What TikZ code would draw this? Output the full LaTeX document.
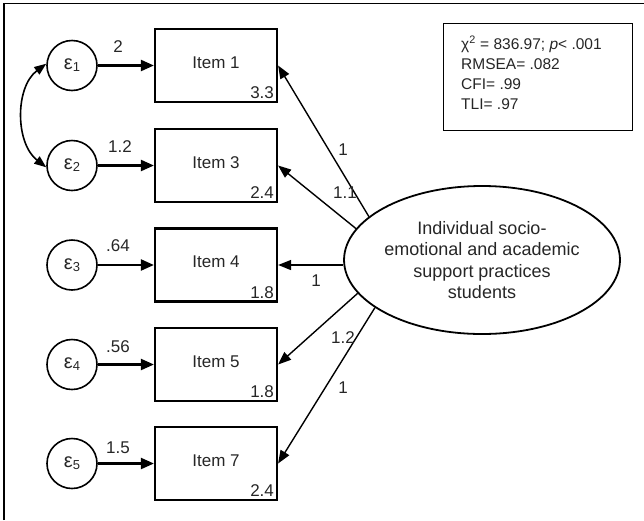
\documentclass[tikz,border=0pt]{standalone}
\usepackage{fontspec}
\setmainfont{Liberation Sans}
\usetikzlibrary{shapes.geometric,arrows.meta}
\begin{document}
\begin{tikzpicture}[x=1pt,y=-1pt,
  itembox/.style={draw,line width=2.2pt,minimum width=122pt,minimum height=73pt,inner sep=0pt},
  errc/.style={draw,circle,line width=1.6pt,minimum size=50pt,inner sep=0pt,font=\fontsize{20}{22}\selectfont},
  thick arrow/.style={line width=2.2pt,-{Triangle[length=13pt,width=11pt]}},
  load arrow/.style={line width=1.4pt,-{Triangle[length=13pt,width=10pt]}},
  coef/.style={font=\fontsize{17}{20}\selectfont,inner sep=0pt},
  itemtxt/.style={font=\fontsize{17}{20}\selectfont,inner sep=0pt},
  every node/.style={text=black!85}
]
\useasboundingbox (0,0) rectangle (644,520);
% frame (top and left edges)
\draw[line width=1.2pt] (4,520) -- (4,3.5) -- (644,3.5);

% items
\foreach \n/\y/\v in {1/65.5/3.3, 3/165.5/2.4, 4/265/1.8, 5/364.5/1.8, 7/463.5/2.4}{
  \node[itembox] (i\n) at (216,\y) {};
  \node[itemtxt] (it\n) at ([yshift=3pt]i\n.center) {Item \n};
  \node[itemtxt,anchor=south east] (iv\n) at ([xshift=-4pt,yshift=4pt]i\n.south east) {\v};
}

% error terms
\foreach \k/\n/\y in {1/1/65.5, 2/3/165.5, 3/4/265, 4/5/364.5, 5/7/463.5}{
  \node[errc] (e\k) at (72,\y) {ε\raisebox{-2pt}{\fontsize{13}{13}\selectfont \k}};
  \draw[thick arrow] (e\k) -- (i\n);
}

% error coefficients
\node[coef] (c1) at (118,47) {2};
\node[coef] (c2) at (120,147) {1.2};
\node[coef] (c3) at (118,246) {.64};
\node[coef] (c4) at (118,347) {.56};
\node[coef] (c5) at (118,448) {1.5};

% covariance
\draw[line width=1.6pt,{Triangle[length=12pt,width=9pt]}-{Triangle[length=12pt,width=9pt]}]
  (e1.176) .. controls (15,87) and (15,143) .. (e2.184);

% latent factor
\node[draw,ellipse,line width=1.8pt,minimum width=262pt,minimum height=148pt,inner sep=0pt,
  align=center,font=\fontsize{18}{21.5}\selectfont] (F) at (482,260)
  {Individual socio-\\emotional and academic\\support practices\\students};

\draw[load arrow] (F.159) -- (i1.east);
\draw[load arrow] (F.166) -- (i3.east);
\draw[load arrow] (F.west |- i4.east) -- (i4.east);
\draw[load arrow] (F.195.5) -- (i5.east);
\draw[load arrow] (F.204) -- (i7.east);

\node[coef] (l1) at (343,150) {1};
\node[coef] (l3) at (345,193) {1.1};
\node[coef] (l4) at (316,281) {1};
\node[coef] (l5) at (343,338) {1.2};
\node[coef] (l7) at (343,388) {1};

% fit indices
\node[draw,line width=1.4pt,minimum width=189pt,minimum height=107pt,anchor=north west,inner sep=0pt] (fit) at (443,23) {};
\node[anchor=north west,align=left,inner sep=0pt,font=\fontsize{15.5}{20}\selectfont] (fittxt) at (461,36)
  {χ\textsuperscript{2} = 836.97; \textit{p}< .001\\RMSEA= .082\\CFI= .99\\TLI= .97};
\end{tikzpicture}
\end{document}
